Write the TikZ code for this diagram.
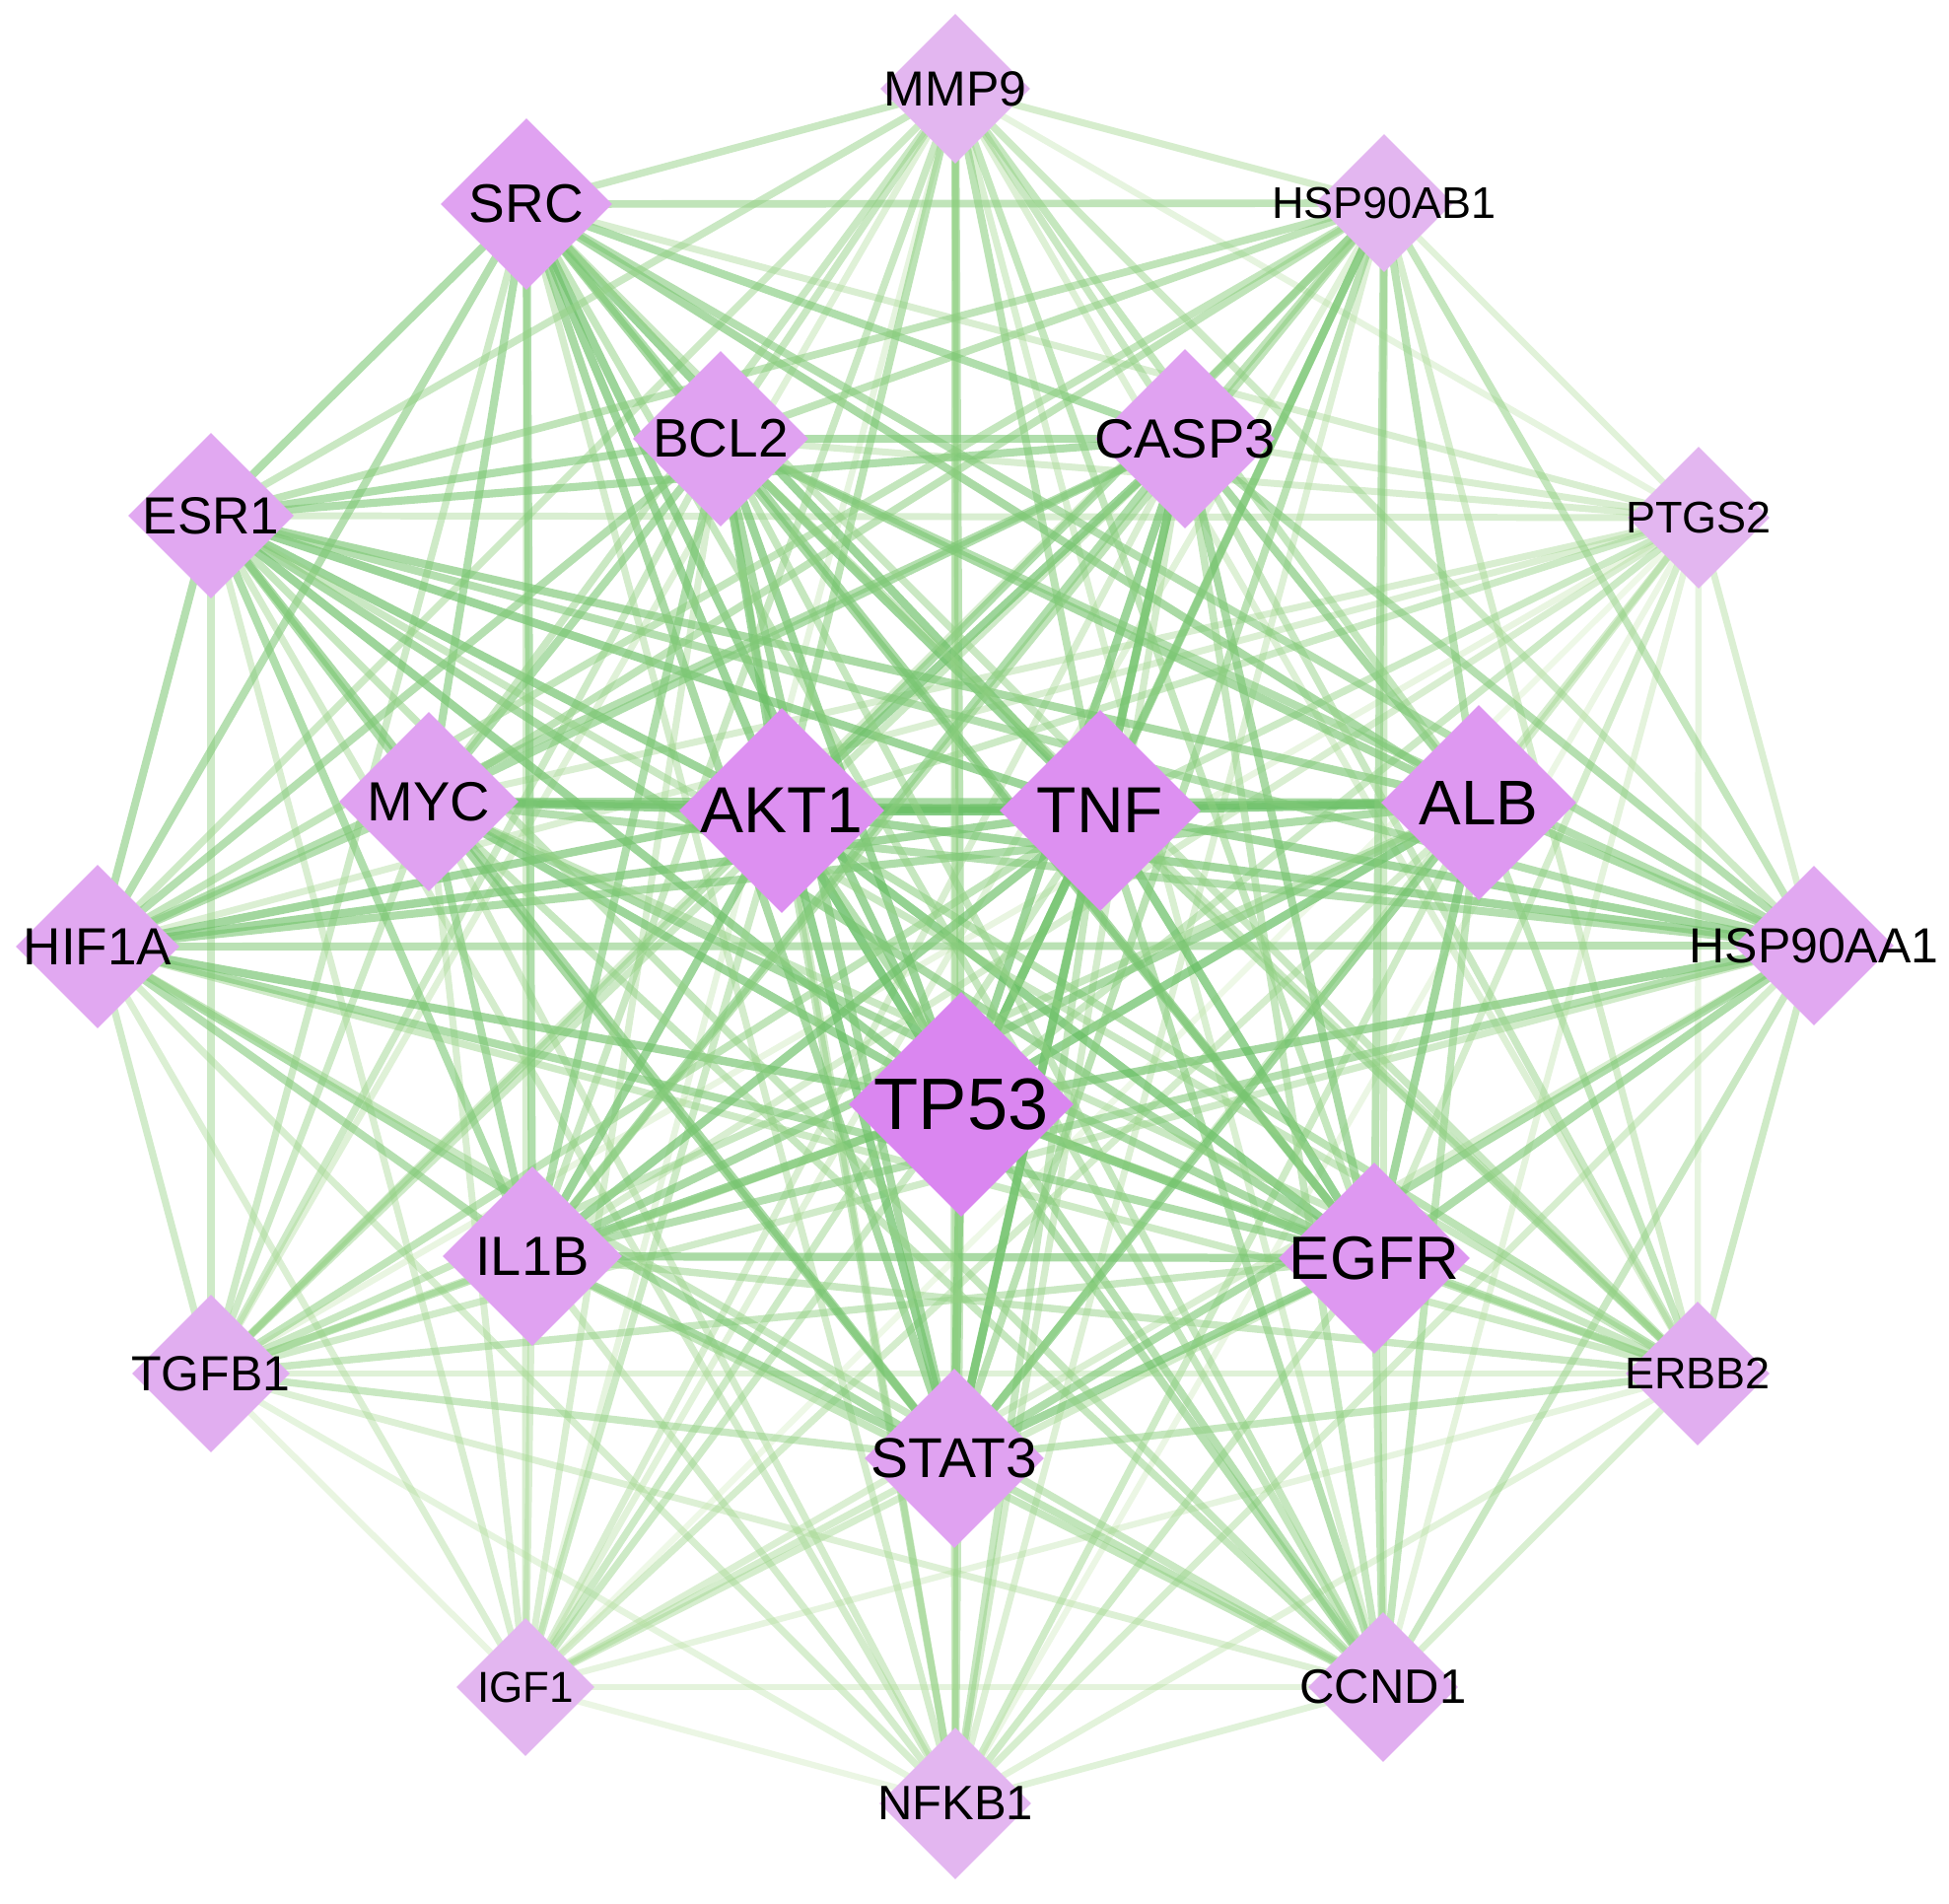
\documentclass[tikz,border=0pt]{standalone}
\usepackage{fontspec}
\setmainfont{Liberation Sans}
\usetikzlibrary{shapes.geometric}
\pgfdeclarelayer{edges}
\pgfsetlayers{edges,main}
\definecolor{edgedark}{HTML}{5CBA5C}
\definecolor{edgepale}{HTML}{C4E6A8}
\definecolor{nA}{HTML}{DA86F0}
\definecolor{nB}{HTML}{DD90F1}
\definecolor{nBb}{HTML}{DE98F1}
\definecolor{nC}{HTML}{E0A2F1}
\definecolor{nD}{HTML}{E1A8F1}
\definecolor{nF}{HTML}{E1AEF0}
\definecolor{nE}{HTML}{E3B6F0}
\tikzset{
  gene/.style={diamond, aspect=1, inner sep=0pt, draw=none},
  genelabel/.style={inner sep=0pt, text=black},
  link/.style={line cap=butt}
}
\begin{document}
\begin{tikzpicture}[x=1pt,y=-1pt]
\useasboundingbox (0,0) rectangle (1977,1930);
\begin{pgfonlayer}{edges}
\fill[white] (0,0) rectangle (1977,1930);
\end{pgfonlayer}
% nodes: name/x/y/size/fontsize/colour
\foreach \nm/\x/\y/\d/\fs/\col in {
  MMP9/969/90/152/50/nE,
  SRC/534/207/174/55/nC,
  HSP90AB1/1404/206/140/45/nE,
  BCL2/731/445/178/55/nC,
  CASP3/1202/445/182/56/nC,
  ESR1/214/523/168/53/nD,
  PTGS2/1723/525/144/45/nE,
  MYC/435/813/182/56/nC,
  AKT1/793/822/208/66/nB,
  TNF/1116/822/204/66/nB,
  ALB/1500/814/198/64/nBb,
  HIF1A/99/960/166/53/nD,
  HSP90AA1/1840/959/162/50/nD,
  TP53/975/1120/228/74/nA,
  IL1B/540/1274/182/56/nC,
  EGFR/1394/1276/194/62/nBb,
  TGFB1/214/1393/160/50/nF,
  ERBB2/1722/1393/146/45/nF,
  STAT3/968/1479/182/57/nC,
  IGF1/533/1711/140/44/nE,
  CCND1/1403/1711/152/49/nF,
  NFKB1/969/1829/154/49/nE}
{
  \node[gene, minimum width=\d pt, minimum height=\d pt, fill=\col] (\nm) at (\x,\y) {};
  \node[genelabel, font=\fontsize{\fs}{\fs}\selectfont] (\nm-t) at (\x,\y) {\nm};
}
\def\nodelist{TP53/1.0, AKT1/1.0, TNF/1.0, ALB/0.95, EGFR/0.95, STAT3/0.95, IL1B/0.92, MYC/0.92, BCL2/0.92, CASP3/0.92, SRC/0.92, ESR1/0.92, HIF1A/0.9, HSP90AA1/0.9, TGFB1/0.78, ERBB2/0.8, CCND1/0.82, NFKB1/0.75, IGF1/0.72, MMP9/0.8, HSP90AB1/0.85, PTGS2/0.72}
\begin{pgfonlayer}{edges}
\foreach \pass in {1,2}{
  \foreach \a/\sa [count=\i] in \nodelist {
    \foreach \b/\sb [count=\j] in \nodelist {
      \ifnum\j>\i
        \pgfmathsetmacro\w{\sa*\sb}
        \pgfmathtruncatemacro\band{\w<0.72 ? 1 : 2}
        \ifnum\band=\pass
          \pgfmathsetmacro\t{max(0,min(1,(\w-0.5)/0.5))}
          \pgfmathtruncatemacro\pct{100*\t}
          \pgfmathsetmacro\op{0.25+0.5*\t}
          \pgfmathsetmacro\lw{6+3*\t}
          \draw[link, line width=\lw pt, draw=edgedark!\pct!edgepale, opacity=\op] (\a.center) -- (\b.center);
        \fi
      \fi
    }
  }
}
\end{pgfonlayer}
\end{tikzpicture}
\end{document}
